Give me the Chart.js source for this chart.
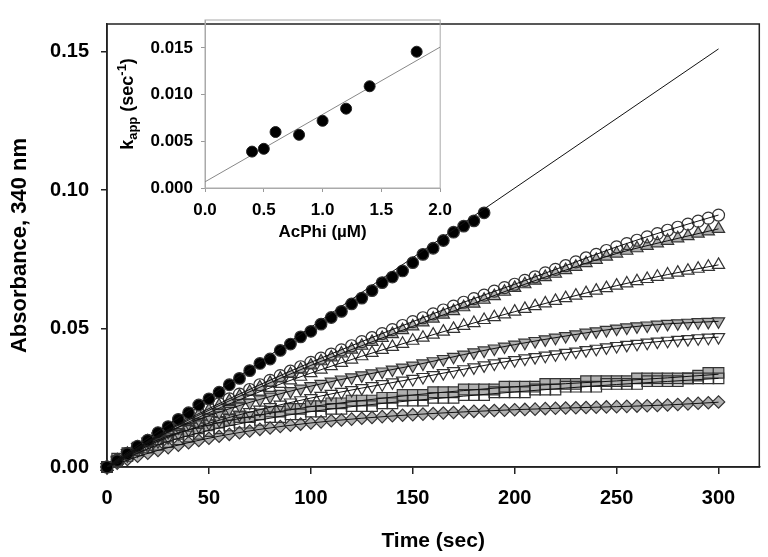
<!DOCTYPE html>
<html>
<head>
<meta charset="utf-8">
<script src="https://cdn.jsdelivr.net/npm/chart.js@4.4.0/dist/chart.umd.min.js"></script>
<style>
  body { margin: 0; background: #fff; }
  #wrap { position: relative; width: 768px; height: 557px; }
  #mainChart { position: absolute; left: 0; top: 0; }
  #insetChart { position: absolute; left: 100px; top: 0; }
</style>
</head>
<body>
<div id="wrap">
  <canvas id="mainChart" width="768" height="557"></canvas>
  <canvas id="insetChart" width="360" height="250"></canvas>
</div>
<script>
// time points (sec), one reading every 5 s
var time = [0,5,10,15,20,25,30,35,40,45,
  50,55,60,65,70,75,80,85,90,95,
  100,105,110,115,120,125,130,135,140,145,
  150,155,160,165,170,175,180,185,190,195,
  200,205,210,215,220,225,230,235,240,245,
  250,255,260,265,270,275,280,285,290,295,
  300];

// absorbance at 340 nm, one list per trace
var filledCircle = [0,0.0023,0.0048,0.0075,0.0097,0.0124,0.0146,0.0172,0.0196,0.0224,
  0.0246,0.0270,0.0297,0.0320,0.0348,0.0374,0.0390,0.0421,0.0444,0.0470,
  0.0490,0.0516,0.0540,0.0562,0.0589,0.0610,0.0637,0.0666,0.0686,0.0708,
  0.0738,0.0768,0.0790,0.0818,0.0848,0.0870,0.0889,0.0918];
var openCircle = [0,0.0025,0.0049,0.0072,0.0094,0.0115,0.0135,0.0155,0.0174,0.0193,
  0.0211,0.0229,0.0246,0.0263,0.0280,0.0297,0.0313,0.0330,0.0346,0.0362,
  0.0378,0.0393,0.0408,0.0423,0.0438,0.0453,0.0467,0.0482,0.0496,0.0511,
  0.0525,0.0539,0.0553,0.0567,0.0581,0.0595,0.0608,0.0621,0.0635,0.0648,
  0.0660,0.0674,0.0687,0.0701,0.0714,0.0727,0.0741,0.0755,0.0768,0.0782,
  0.0795,0.0807,0.0819,0.0831,0.0843,0.0855,0.0866,0.0877,0.0888,0.0899,
  0.0910];
var grayUpTri = [0,0.0024,0.0047,0.0070,0.0092,0.0112,0.0132,0.0151,0.0170,0.0188,
  0.0205,0.0222,0.0239,0.0256,0.0272,0.0288,0.0304,0.0320,0.0336,0.0352,
  0.0367,0.0382,0.0396,0.0410,0.0424,0.0438,0.0452,0.0466,0.0480,0.0494,
  0.0508,0.0522,0.0536,0.0550,0.0563,0.0577,0.0590,0.0604,0.0617,0.0633,
  0.0647,0.0660,0.0673,0.0686,0.0698,0.0711,0.0723,0.0736,0.0748,0.0760,
  0.0771,0.0781,0.0790,0.0799,0.0808,0.0817,0.0826,0.0834,0.0843,0.0851,
  0.0860];
var openUpTri = [0,0.0023,0.0045,0.0066,0.0087,0.0107,0.0126,0.0144,0.0162,0.0179,
  0.0196,0.0212,0.0228,0.0243,0.0258,0.0272,0.0286,0.0300,0.0313,0.0326,
  0.0339,0.0352,0.0364,0.0376,0.0388,0.0400,0.0412,0.0423,0.0434,0.0445,
  0.0456,0.0467,0.0478,0.0489,0.0499,0.0510,0.0520,0.0531,0.0541,0.0551,
  0.0561,0.0571,0.0581,0.0591,0.0600,0.0610,0.0619,0.0628,0.0637,0.0646,
  0.0655,0.0663,0.0671,0.0679,0.0687,0.0695,0.0702,0.0709,0.0716,0.0723,
  0.0730];
var grayDownTri = [0,0.0026,0.0050,0.0072,0.0092,0.0110,0.0127,0.0143,0.0158,0.0172,
  0.0185,0.0198,0.0210,0.0222,0.0233,0.0244,0.0254,0.0264,0.0274,0.0283,
  0.0292,0.0300,0.0308,0.0316,0.0324,0.0331,0.0338,0.0345,0.0352,0.0359,
  0.0366,0.0374,0.0382,0.0390,0.0398,0.0406,0.0414,0.0421,0.0428,0.0435,
  0.0442,0.0449,0.0455,0.0461,0.0467,0.0473,0.0479,0.0485,0.0490,0.0495,
  0.0500,0.0504,0.0508,0.0511,0.0514,0.0517,0.0519,0.0521,0.0523,0.0524,
  0.0526];
var openDownTri = [0,0.0022,0.0042,0.0060,0.0077,0.0093,0.0108,0.0122,0.0135,0.0147,
  0.0158,0.0169,0.0179,0.0189,0.0198,0.0207,0.0216,0.0225,0.0233,0.0241,
  0.0249,0.0257,0.0264,0.0271,0.0278,0.0285,0.0292,0.0299,0.0306,0.0312,
  0.0318,0.0325,0.0332,0.0339,0.0346,0.0353,0.0360,0.0367,0.0374,0.0380,
  0.0386,0.0392,0.0397,0.0402,0.0407,0.0412,0.0417,0.0422,0.0427,0.0432,
  0.0437,0.0441,0.0445,0.0449,0.0453,0.0456,0.0459,0.0462,0.0465,0.0467,
  0.0469];
var graySquare = [0,0.003,0.005,0.007,0.008,0.010,0.011,0.012,0.013,0.014,
  0.015,0.016,0.017,0.018,0.018,0.019,0.020,0.020,0.021,0.021,
  0.022,0.022,0.023,0.023,0.024,0.024,0.024,0.025,0.025,0.026,
  0.026,0.026,0.027,0.027,0.027,0.028,0.028,0.028,0.028,0.029,
  0.029,0.029,0.029,0.030,0.030,0.030,0.030,0.031,0.031,0.031,
  0.031,0.031,0.032,0.032,0.032,0.032,0.032,0.032,0.033,0.034,
  0.034];
var openSquare = [0,0.002,0.004,0.006,0.007,0.008,0.009,0.010,0.011,0.012,
  0.013,0.014,0.015,0.016,0.016,0.017,0.018,0.018,0.019,0.019,
  0.020,0.020,0.021,0.021,0.022,0.022,0.022,0.023,0.023,0.024,
  0.024,0.024,0.025,0.025,0.025,0.026,0.026,0.026,0.027,0.027,
  0.027,0.027,0.028,0.028,0.028,0.029,0.029,0.029,0.029,0.030,
  0.030,0.030,0.030,0.031,0.031,0.031,0.031,0.032,0.032,0.032,
  0.032];
var grayDiamond = [0,0.0014,0.0027,0.0039,0.0050,0.0060,0.0070,0.0079,0.0088,0.0096,
  0.0104,0.0111,0.0118,0.0124,0.0130,0.0136,0.0141,0.0146,0.0151,0.0155,
  0.0159,0.0163,0.0167,0.0170,0.0173,0.0176,0.0179,0.0182,0.0185,0.0187,
  0.0189,0.0191,0.0193,0.0195,0.0197,0.0199,0.0201,0.0202,0.0204,0.0205,
  0.0207,0.0208,0.0209,0.0211,0.0212,0.0213,0.0214,0.0215,0.0216,0.0217,
  0.0218,0.0219,0.0220,0.0221,0.0222,0.0224,0.0226,0.0228,0.0230,0.0232,
  0.0235];

// fitted curves
var fitTime = [0,25,50,75,100,125,150,175,200,225,250,275,300];
var fitFilledTime = [0,300];
var fitFilledCircle = [0.0002,0.151];
var fitOpenCircle = [0,0.0115,0.0211,0.0297,0.0378,0.0453,0.0525,0.0595,0.0660,0.0727,0.0795,0.0855,0.0910];
var fitGrayUpTri = [0,0.0112,0.0205,0.0288,0.0367,0.0438,0.0508,0.0577,0.0647,0.0711,0.0771,0.0817,0.0860];
var fitOpenUpTri = [0,0.0107,0.0196,0.0272,0.0339,0.0400,0.0456,0.0510,0.0561,0.0610,0.0655,0.0695,0.0730];
var fitGrayDownTri = [0,0.0110,0.0185,0.0244,0.0292,0.0331,0.0366,0.0406,0.0442,0.0473,0.0500,0.0517,0.0526];
var fitOpenDownTri = [0,0.0093,0.0158,0.0207,0.0249,0.0285,0.0318,0.0353,0.0386,0.0412,0.0437,0.0456,0.0469];
var fitGraySquare = [0,0.0098,0.0152,0.0188,0.0218,0.0240,0.0260,0.0276,0.0290,0.0301,0.0311,0.0322,0.0335];
var fitOpenSquare = [0,0.0080,0.0132,0.0170,0.0200,0.0222,0.0240,0.0256,0.0271,0.0285,0.0298,0.0309,0.0320];
var fitGrayDiamond = [0,0.0060,0.0104,0.0136,0.0159,0.0176,0.0189,0.0199,0.0207,0.0213,0.0218,0.0224,0.0234];

var xTicks = [0,50,100,150,200,250,300];
var yTicks = [0,0.05,0.10,0.15];

// inset: k_app vs AcPhi
var acphi = [0.4,0.5,0.6,0.8,1.0,1.2,1.4,1.8];
var kapp = [0.0039,0.0042,0.0060,0.0057,0.0072,0.0085,0.0109,0.0146];
var kappFitX = [0,2.0];
var kappFit = [0.00066,0.0151];
var insetXTicks = [0,0.5,1.0,1.5,2.0];
var insetYTicks = [0,0.005,0.010,0.015];

Chart.defaults.font.family = "'Liberation Sans', Arial, sans-serif";
Chart.defaults.color = '#000';

function pts(xs, ys) {
  return ys.map(function (y, i) { return { x: xs[i], y: y }; });
}

function markers(vals, style, fill, r, rot, ord) {
  return {
    data: pts(time, vals),
    showLine: false,
    pointStyle: style,
    rotation: rot || 0,
    pointRadius: r,
    pointBackgroundColor: fill,
    pointBorderColor: '#333',
    pointBorderWidth: 1.2,
    order: ord,
    clip: false
  };
}

function fitLine(xs, vals) {
  return {
    data: pts(xs, vals),
    showLine: true,
    borderColor: '#111',
    borderWidth: 1,
    pointRadius: 0,
    cubicInterpolationMode: 'monotone',
    order: 0
  };
}

// box round the plot area
var frame = {
  id: 'frame',
  beforeDatasetsDraw: function (chart, args, opts) {
    var a = chart.chartArea, c = chart.ctx;
    c.save();
    c.strokeStyle = opts.color;
    c.lineWidth = opts.width;
    c.strokeRect(a.left, a.top, a.right - a.left, a.bottom - a.top);
    c.restore();
  }
};

var gray = '#b0b0b0';
var hollow = 'rgba(255,255,255,0)';

new Chart(document.getElementById('mainChart'), {
  type: 'scatter',
  data: {
    datasets: [
      fitLine(fitFilledTime, fitFilledCircle),
      fitLine(fitTime, fitOpenCircle),
      fitLine(fitTime, fitGrayUpTri),
      fitLine(fitTime, fitOpenUpTri),
      fitLine(fitTime, fitGrayDownTri),
      fitLine(fitTime, fitOpenDownTri),
      fitLine(fitTime, fitGraySquare),
      fitLine(fitTime, fitOpenSquare),
      fitLine(fitTime, fitGrayDiamond),
      markers(filledCircle, 'circle', '#000', 5.8, 0, 1),
      markers(openCircle, 'circle', hollow, 6, 0, 2),
      markers(grayUpTri, 'triangle', gray, 7, 0, 3),
      markers(openUpTri, 'triangle', hollow, 7, 0, 4),
      markers(grayDownTri, 'triangle', gray, 7, 180, 5),
      markers(openDownTri, 'triangle', hollow, 7, 180, 6),
      markers(openSquare, 'rect', hollow, 7.5, 0, 7),
      markers(graySquare, 'rect', gray, 7.5, 0, 8),
      markers(grayDiamond, 'rectRot', gray, 6.2, 0, 9)
    ]
  },
  options: {
    responsive: false,
    animation: false,
    layout: { padding: { left: 0, top: 10, right: 8, bottom: 0 } },
    plugins: {
      legend: { display: false },
      tooltip: { enabled: false },
      frame: { color: '#222', width: 1.5 }
    },
    scales: {
      x: {
        type: 'linear',
        min: 0,
        max: 320,
        afterBuildTicks: function (s) { s.ticks = xTicks.map(function (v) { return { value: v }; }); },
        afterFit: function (s) { s.height = 90; },
        grid: { drawOnChartArea: false, tickLength: 7, color: '#222', lineWidth: 1.5 },
        border: { color: '#222', width: 1.5 },
        ticks: { font: { size: 20, weight: 'bold' }, padding: 12, maxRotation: 0 },
        title: { display: true, text: 'Time (sec)', font: { size: 21, weight: 'bold' }, padding: { top: 0, bottom: 3 } }
      },
      y: {
        min: 0,
        max: 0.16,
        afterBuildTicks: function (s) { s.ticks = yTicks.map(function (v) { return { value: v }; }); },
        afterFit: function (s) { s.width = 107; },
        grid: { drawOnChartArea: false, tickLength: 6, color: '#222', lineWidth: 1.5 },
        border: { color: '#222', width: 1.5 },
        ticks: { font: { size: 20, weight: 'bold' }, padding: 12, callback: function (v) { return v.toFixed(2); } },
        title: { display: true, text: 'Absorbance, 340 nm', font: { size: 22, weight: 'bold' }, padding: { top: 7, bottom: 0 } }
      }
    }
  },
  plugins: [frame]
});

// rotated k_app title with sub/superscripts
var kappTitle = {
  id: 'kappTitle',
  afterDraw: function (chart) {
    var c = chart.ctx;
    var parts = [['k', 18, 0], ['app', 13, 4], [' (sec', 18, 0], ['-1', 13, -7], [')', 18, 0]];
    c.save();
    c.fillStyle = '#000';
    c.textBaseline = 'alphabetic';
    var total = 0;
    parts.forEach(function (p) {
      c.font = 'bold ' + p[1] + "px 'Liberation Sans', Arial, sans-serif";
      p.push(c.measureText(p[0]).width);
      total += p[3];
    });
    c.translate(33, 104);
    c.rotate(-Math.PI / 2);
    var x = -total / 2;
    parts.forEach(function (p) {
      c.font = 'bold ' + p[1] + "px 'Liberation Sans', Arial, sans-serif";
      c.fillText(p[0], x, p[2]);
      x += p[3];
    });
    c.restore();
  }
};

new Chart(document.getElementById('insetChart'), {
  type: 'scatter',
  data: {
    datasets: [
      {
        data: pts(acphi, kapp),
        pointRadius: 5.5,
        pointBackgroundColor: '#000',
        pointBorderColor: '#222',
        pointBorderWidth: 1,
        order: 0,
        clip: false
      },
      {
        data: pts(kappFitX, kappFit),
        showLine: true,
        borderColor: '#888',
        borderWidth: 1,
        pointRadius: 0,
        order: 1
      }
    ]
  },
  options: {
    responsive: false,
    animation: false,
    layout: { padding: { left: 0, top: 20, right: 13, bottom: 0 } },
    plugins: {
      legend: { display: false },
      tooltip: { enabled: false },
      frame: { color: '#aaa', width: 1 }
    },
    scales: {
      x: {
        type: 'linear',
        min: 0,
        max: 2.0,
        afterBuildTicks: function (s) { s.ticks = insetXTicks.map(function (v) { return { value: v }; }); },
        afterFit: function (s) { s.height = 62; },
        grid: { drawOnChartArea: false, tickLength: 4, color: '#999' },
        border: { color: '#aaa', width: 1 },
        ticks: { font: { size: 17, weight: 'bold' }, padding: 8, maxRotation: 0, callback: function (v) { return v.toFixed(1); } },
        title: { display: true, text: 'AcPhi (µM)', font: { size: 17, weight: 'bold' }, padding: { top: 0, bottom: 7 } }
      },
      y: {
        min: 0,
        max: 0.018,
        afterBuildTicks: function (s) { s.ticks = insetYTicks.map(function (v) { return { value: v }; }); },
        afterFit: function (s) { s.width = 105; },
        grid: { drawOnChartArea: false, tickLength: 4, color: '#999' },
        border: { color: '#aaa', width: 1 },
        ticks: { font: { size: 17, weight: 'bold' }, padding: 8, callback: function (v) { return v.toFixed(3); } }
      }
    }
  },
  plugins: [frame, kappTitle]
});
</script>
</body>
</html>
